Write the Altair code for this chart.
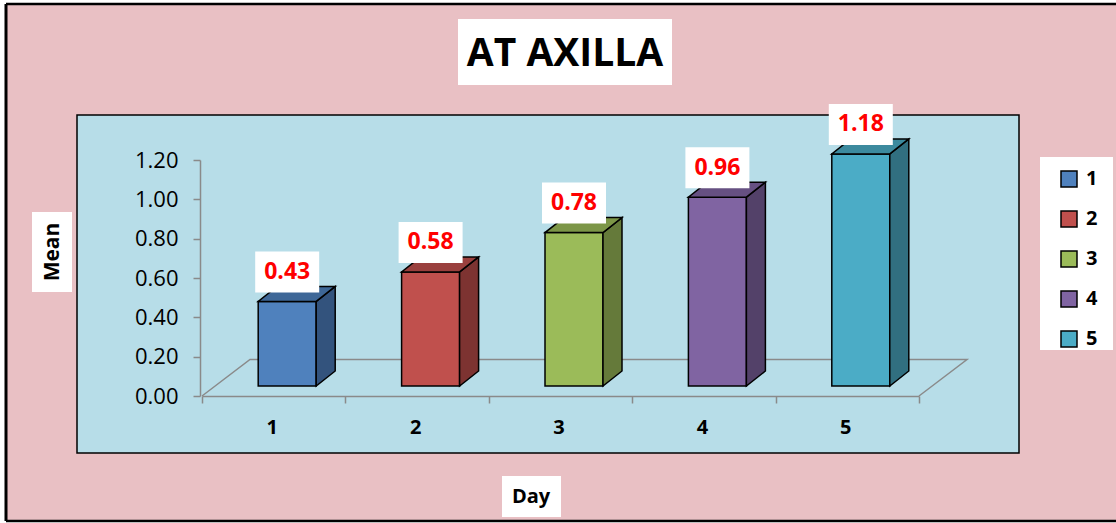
import altair as alt
import pandas as pd

# ---------------- data ----------------
days = [1, 2, 3, 4, 5]
day_labels = ["1", "2", "3", "4", "5"]
means = [0.43, 0.58, 0.78, 0.96, 1.18]
value_labels = ["0.43", "0.58", "0.78", "0.96", "1.18"]
front_colors = ["#4f81bd", "#c0504d", "#9bbb59", "#8064a2", "#4bacc6"]
top_colors = ["#3e6797", "#9a403e", "#7c9647", "#665082", "#3c8a9e"]
side_colors = ["#33537d", "#7d3331", "#657a3a", "#534169", "#316f80"]
y_ticks = [0.0, 0.2, 0.4, 0.6, 0.8, 1.0, 1.2]
title_text = "AT AXILLA"
x_title = "Day"
y_title = "Mean"

FONT = "Open Sans"

# ---------------- geometry (style) ----------------
W, H = 717, 236
X0, X1 = 0.5, 5.5
Y0, Y1 = 0.0, 1.2
PX = W / (X1 - X0)      # pixels per day
PY = H / (Y1 - Y0)      # pixels per unit of mean
c = 13.5 / PX           # shift of bar front toward the right (3-D depth)
hw = 29 / PX            # half width of bar front
base = 10 / PY          # bars stand on the middle of the floor
ddx = 19 / PX           # depth offset x
ddy = 15 / PY           # depth offset y
fx = 48 / PX            # floor depth x
fy = 36.5 / PY          # floor depth y

front = pd.DataFrame({
    "day": days,
    "Day": day_labels,
    "mean": means,
    "label": value_labels,
})
front["xl"] = front["day"] + c - hw
front["xr"] = front["day"] + c + hw
front["yb"] = base
front["yt"] = base + front["mean"]
front["bxl"] = front["day"] + c - 32 / PX
front["bxr"] = front["day"] + c + 32 / PX
front["byb"] = front["yt"] + 9 / PY
front["byt"] = front["yt"] + 50 / PY
front["ty"] = front["yt"] + 29.5 / PY
front["tx"] = front["day"] + c

side_rows, top_rows = [], []
for d, v, sc, tc in zip(days, means, side_colors, top_colors):
    xl = d + c - hw
    xr = d + c + hw
    yb = base
    yt = base + v
    side_rows.append({"day": d, "x": xr, "y": yt, "y2": yb, "col": sc})
    side_rows.append({"day": d, "x": xr + ddx, "y": yt + ddy, "y2": yb + ddy, "col": sc})
    top_rows.append({"day": d, "y": yt, "x": xl, "x2": xr, "col": tc})
    top_rows.append({"day": d, "y": yt + ddy, "x": xl + ddx, "x2": xr + ddx, "col": tc})
side = pd.DataFrame(side_rows)
top = pd.DataFrame(top_rows)

floor = pd.DataFrame({
    "x": [X0, X0 + fx, X1 + fx, X1],
    "y": [0.0, fy, fy, 0.0],
    "o": [0, 1, 2, 3],
})

one = pd.DataFrame({"a": [0]})

xs = alt.Scale(domain=[X0, X1], nice=False, zero=False)
ys = alt.Scale(domain=[Y0, Y1], nice=False, zero=False)

x_axis = alt.Axis(
    values=[0.5, 1.5, 2.5, 3.5, 4.5, 5.5],
    labelExpr="datum.value < 5 ? format(datum.value + 0.5, 'd') : ''",
    labelOffset=PX / 2 - 2,
    tickSize=7, tickColor="#8a8a8a", tickWidth=1.5,
    domainColor="#8a8a8a", domainWidth=1.5,
    labelFont=FONT, labelFontSize=20, labelFontWeight="bold", labelColor="black",
    labelPadding=14, labelFlush=False, labelOverlap=False, labelBound=False,
    grid=False, title=None, zindex=1,
)
y_axis = alt.Axis(
    values=y_ticks, format=".2f",
    tickSize=7, tickColor="#8a8a8a", tickWidth=1.5,
    domainColor="#8a8a8a", domainWidth=1.5, offset=2,
    labelFont=FONT, labelFontSize=22, labelColor="black", labelPadding=15,
    grid=False, title=None, zindex=1,
)


def deco_rect(x, x2, y, y2, fill, stroke=None, sw=0):
    kw = {"fill": fill}
    if stroke:
        kw.update(stroke=stroke, strokeWidth=sw)
    return alt.Chart(one).mark_rect(**kw).encode(
        x=alt.value(x), x2=alt.value(x2), y=alt.value(y), y2=alt.value(y2)
    )


def deco_rule(x, x2, y, y2, sw):
    return alt.Chart(one).mark_rule(color="black", strokeWidth=sw).encode(
        x=alt.value(x), x2=alt.value(x2), y=alt.value(y), y2=alt.value(y2)
    )


frame = deco_rect(-196, 960, -156, 361, "#e9c0c4")
frame_top = deco_rule(-196, 960, -156, -156, 2.5)
frame_left = deco_rule(-196, -196, -156, 361, 3)
frame_bottom = deco_rule(-196, 960, 361, 361, 2.5)
plotbox = deco_rect(-125, 817, -45, 293, "#b7dde8", "black", 1.5)
title_box = deco_rect(256, 470, -141, -75, "white")
mean_box = deco_rect(-170, -130, 52, 132, "white")
day_box = deco_rect(300, 359, 316, 357, "white")
legend_box = deco_rect(838, 911, -3, 190, "white")

title_txt = alt.Chart(one).mark_text(
    text=title_text, font=FONT, fontSize=39, fontWeight="bold", color="black",
    align="center", baseline="middle"
).encode(x=alt.value(363), y=alt.value(-106))
mean_txt = alt.Chart(one).mark_text(
    text=y_title, font=FONT, fontSize=21, fontWeight="bold", color="black",
    align="center", baseline="middle", angle=270
).encode(x=alt.value(-149), y=alt.value(92))
day_txt = alt.Chart(one).mark_text(
    text=x_title, font=FONT, fontSize=20, fontWeight="bold", color="black",
    align="center", baseline="middle"
).encode(x=alt.value(329), y=alt.value(337))

floor_line = alt.Chart(floor).mark_line(color="#8a8a8a", strokeWidth=1.5).encode(
    x=alt.X("x:Q", scale=xs, axis=x_axis),
    y=alt.Y("y:Q", scale=ys, axis=y_axis),
    order="o:Q",
)

front_bars = alt.Chart(front).mark_rect(stroke="black", strokeWidth=1.5).encode(
    x=alt.X("xl:Q", scale=xs, axis=x_axis),
    x2="xr:Q",
    y=alt.Y("yb:Q", scale=ys, axis=y_axis),
    y2="yt:Q",
    fill=alt.Fill(
        "Day:N",
        scale=alt.Scale(domain=day_labels, range=front_colors),
        legend=alt.Legend(
            title=None, orient="none", legendX=857, legendY=9,
            symbolType="square", symbolSize=256, symbolStrokeColor="black",
            symbolStrokeWidth=1.5, symbolOpacity=1,
            labelFont=FONT, labelFontSize=20, labelFontWeight="bold",
            labelColor="black", rowPadding=18, padding=0, labelOffset=7,
        ),
    ),
)

side_faces = alt.Chart(side).mark_area(stroke="black", strokeWidth=1.5, opacity=1).encode(
    x=alt.X("x:Q", scale=xs, axis=x_axis),
    y=alt.Y("y:Q", scale=ys, axis=y_axis),
    y2="y2:Q",
    detail="day:N",
    fill=alt.Fill("col:N", scale=None),
)

top_faces = alt.Chart(top).mark_area(
    orient="horizontal", stroke="black", strokeWidth=1.5, opacity=1
).encode(
    y=alt.Y("y:Q", scale=ys, axis=y_axis),
    x=alt.X("x:Q", scale=xs, axis=x_axis),
    x2="x2:Q",
    detail="day:N",
    fill=alt.Fill("col:N", scale=None),
)

label_boxes = alt.Chart(front).mark_rect(fill="white").encode(
    x=alt.X("bxl:Q", scale=xs, axis=x_axis),
    x2="bxr:Q",
    y=alt.Y("byb:Q", scale=ys, axis=y_axis),
    y2="byt:Q",
)

label_txt = alt.Chart(front).mark_text(
    font=FONT, fontSize=23, fontWeight="bold", color="#ff0000",
    align="center", baseline="middle"
).encode(
    x=alt.X("tx:Q", scale=xs, axis=x_axis),
    y=alt.Y("ty:Q", scale=ys, axis=y_axis),
    text="label:N",
)

chart = alt.layer(
    frame, frame_top, frame_left, frame_bottom,
    plotbox, title_box, mean_box, day_box, legend_box,
    title_txt, mean_txt, day_txt,
    floor_line, front_bars, side_faces, top_faces, label_boxes, label_txt,
).properties(
    width=W, height=H,
    autosize=alt.AutoSizeParams(type="none"),
    padding={"left": 202, "top": 160, "right": 1116 - 202 - W, "bottom": 523 - 160 - H},
    background="white",
).configure_view(stroke=None)

chart.save("out.html", embed_options={"renderer": "svg", "actions": False})
